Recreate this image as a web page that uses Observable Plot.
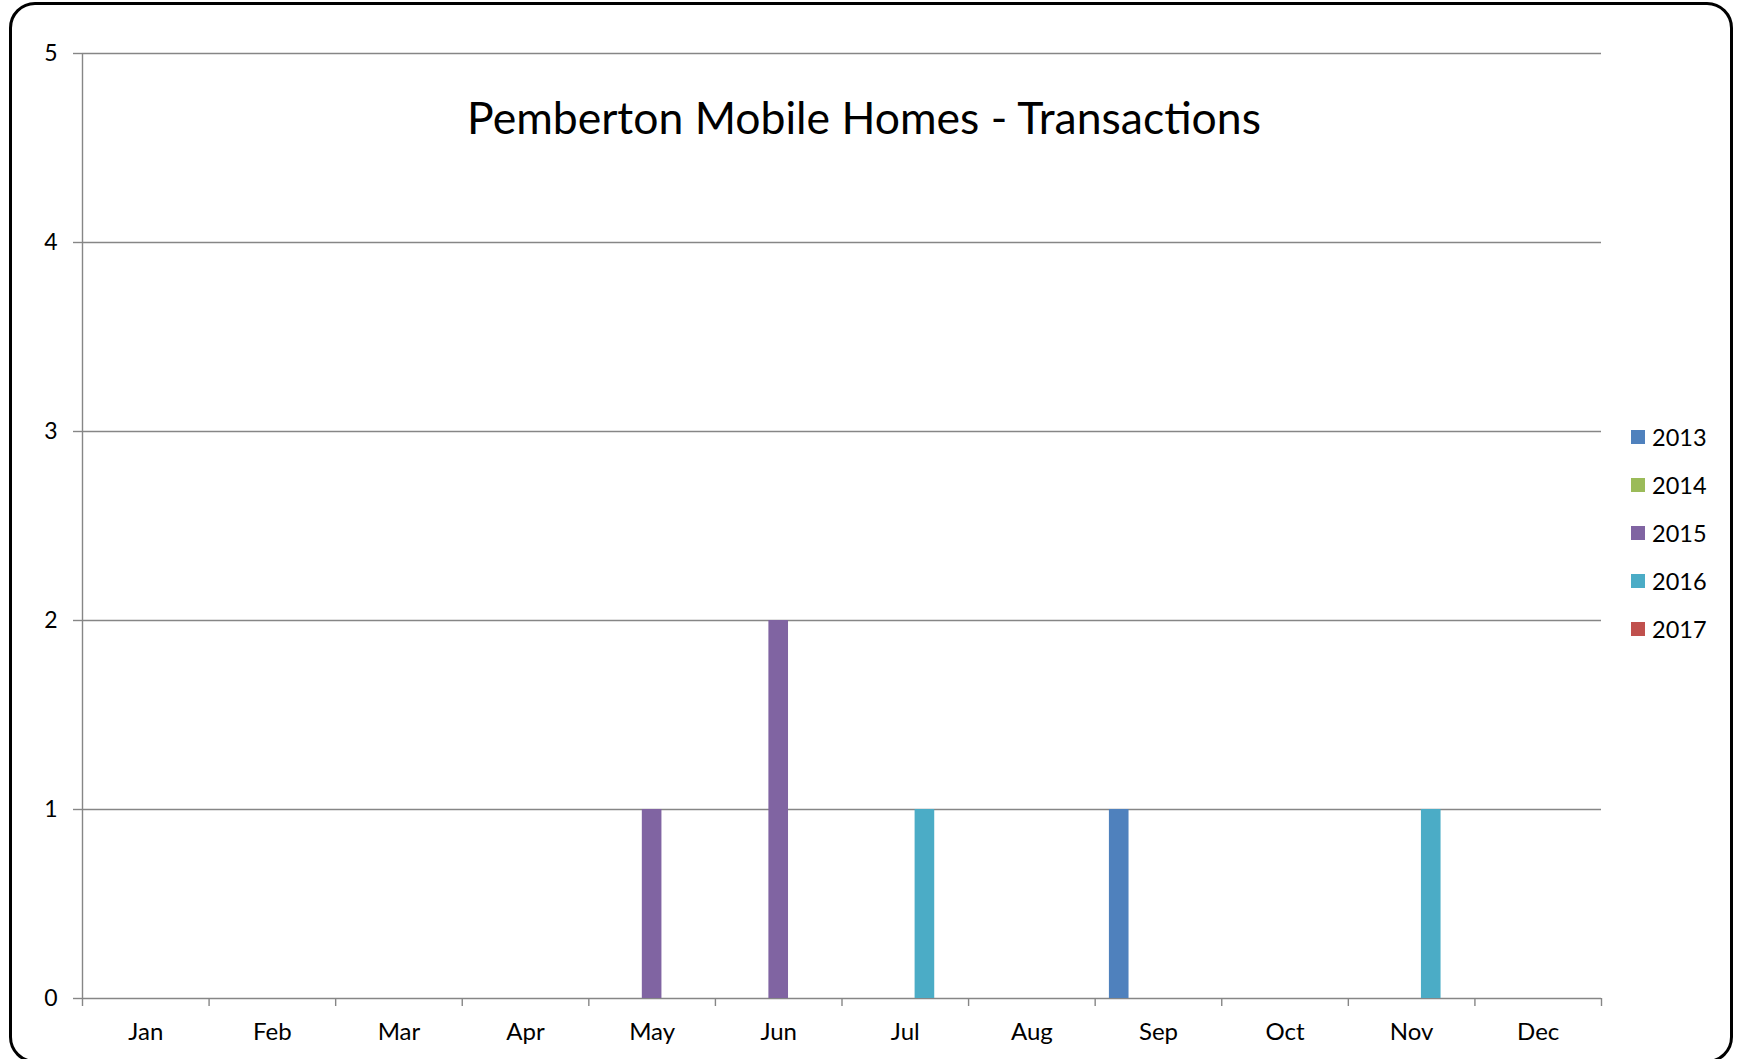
<!DOCTYPE html>
<html><head><meta charset="utf-8">
<script src="https://cdn.jsdelivr.net/npm/d3@7"></script>
<script src="https://cdn.jsdelivr.net/npm/@observablehq/plot@0.6"></script>
<style>
body{margin:0;background:#fff;}
#wrap{position:relative;width:1739px;height:1059px;overflow:hidden;font-family:Lato, sans-serif;background:#fff;}
#chart{position:absolute;left:0;top:0;}
#border{position:absolute;left:9px;top:2px;width:1724px;height:1061px;border:3px solid #000;border-radius:26px;box-sizing:border-box;pointer-events:none;}
#legend{position:absolute;left:1631px;top:413px;}
.item{display:flex;align-items:center;height:48px;font-size:23.5px;color:#000;}
.sw{width:14px;height:14px;margin-right:7px;}
</style></head><body>
<div id="wrap"><div id="chart"></div><div id="legend"></div><div id="border"></div></div>
<script>
const title = "Pemberton Mobile Homes - Transactions";
const months = ["Jan","Feb","Mar","Apr","May","Jun","Jul","Aug","Sep","Oct","Nov","Dec"];
const years = ["2013","2014","2015","2016","2017"];
const colors = ["#4F81BD","#9BBB59","#8064A2","#4BACC6","#C0504D"];
const v2013 = [0,0,0,0,0,0,0,0,1,0,0,0];
const v2014 = [0,0,0,0,0,0,0,0,0,0,0,0];
const v2015 = [0,0,0,0,1,2,0,0,0,0,0,0];
const v2016 = [0,0,0,0,0,0,1,0,0,0,1,0];
const v2017 = [0,0,0,0,0,0,0,0,0,0,0,0];
const yTicks = [0,1,2,3,4,5];

const series = [v2013, v2014, v2015, v2016, v2017];
const rows = [];
series.forEach((vals, s) => vals.forEach((v, m) => rows.push({m, s, v, year: years[s]})));
const bw = 0.155;
const gray = "#868686";

const chart = Plot.plot({
  width: 1739, height: 1059,
  marginLeft: 82, marginRight: 138, marginTop: 53, marginBottom: 61,
  style: {fontFamily: "Lato, sans-serif", fontSize: "22px", color: "#000", background: "transparent"},
  x: {domain: [0, 12], axis: null, label: null},
  y: {domain: [0, 5], axis: null, label: null},
  color: {domain: years, range: colors},
  marks: [
    Plot.gridY(yTicks, {stroke: gray, strokeOpacity: 1, strokeWidth: 1.4}),
    Plot.ruleX([0], {stroke: gray, strokeWidth: 1.4}),
    Plot.rectY(rows.filter(d => d.v > 0), {
      x1: d => d.m + 0.5 + (d.s - 2.5) * bw,
      x2: d => d.m + 0.5 + (d.s - 1.5) * bw,
      y1: 0, y2: "v", fill: "year"
    }),
    Plot.axisY(yTicks, {tickSize: 9, tickPadding: 16, stroke: gray, strokeWidth: 1.4, fill: "#000", fontSize: 23, label: null, tickFormat: d => String(d)}),
    Plot.axisX(d3.range(13), {tickSize: 8, tickFormat: () => "", stroke: gray, strokeWidth: 1.4, label: null}),
    Plot.axisX(months.map((_, i) => i + 0.5), {tickSize: 0, tickPadding: 24, fill: "#000", fontSize: 24, label: null, tickFormat: d => months[Math.floor(d)]}),
    Plot.text([title], {frameAnchor: "top", lineAnchor: "middle", dy: 66, dx: 22, fontSize: 44.5, fill: "#000"})
  ]
});
document.getElementById("chart").appendChild(chart);

const legend = document.getElementById("legend");
years.forEach((y, i) => {
  const it = document.createElement("div");
  it.className = "item";
  it.innerHTML = `<div class="sw" style="background:${colors[i]}"></div><span>${y}</span>`;
  legend.appendChild(it);
});
</script>
</body></html>
